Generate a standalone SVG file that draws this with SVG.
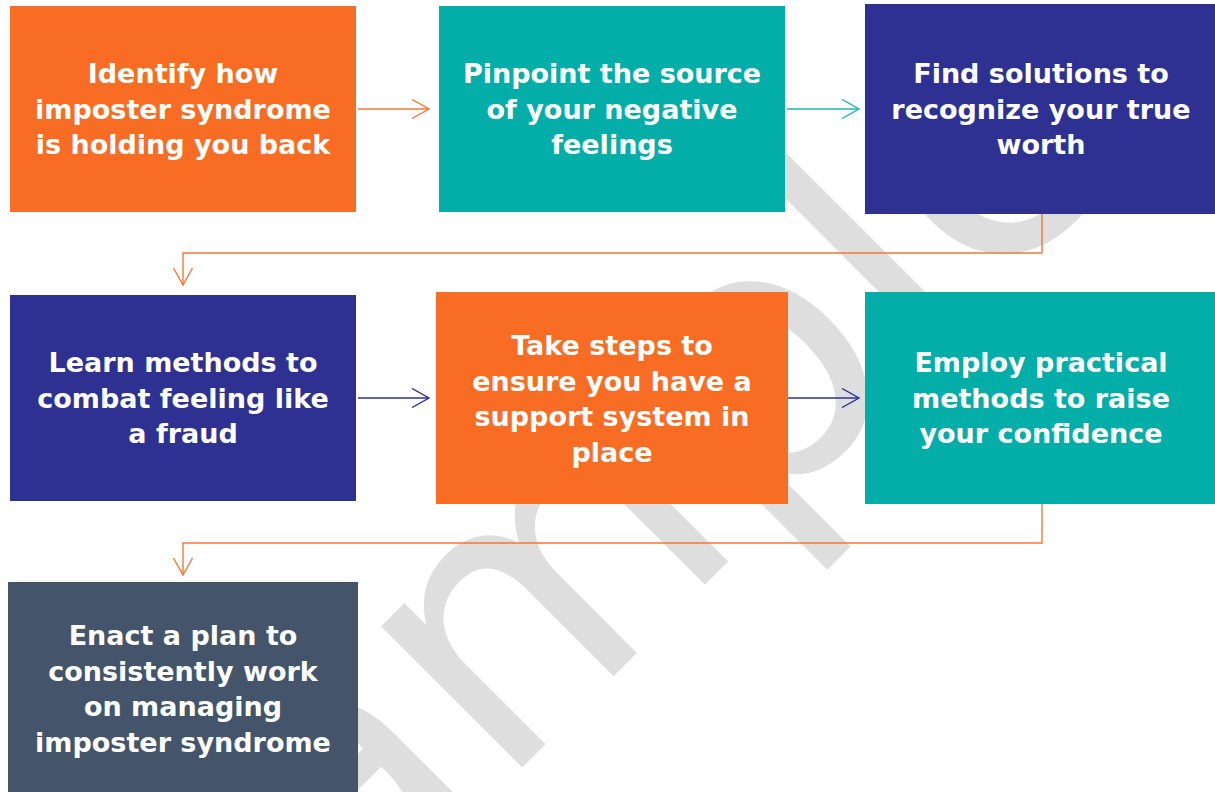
<svg xmlns="http://www.w3.org/2000/svg" width="1215" height="792" viewBox="0 0 1215 792">
<style>
.lbl{font-family:"DejaVu Sans","Liberation Sans",sans-serif;font-weight:bold;font-size:27px;fill:#ffffff;text-anchor:middle}
.wm{font-family:"DejaVu Sans","Liberation Sans",sans-serif;font-size:365px;fill:#dedede}
.ln{fill:none;stroke-width:1.4}
.or{stroke:#F6773A}
.te{stroke:#1DB7B1}
.bl{stroke:#2E3192}
</style>
<defs>
<marker id="mOr" viewBox="0 0 20 20" markerWidth="20" markerHeight="20" markerUnits="userSpaceOnUse" refX="18" refY="10" orient="auto"><path d="M1,0.5 L18,10 L1,19.5" fill="none" stroke="#F6773A" stroke-width="1.4"/></marker>
<marker id="mTe" viewBox="0 0 20 20" markerWidth="20" markerHeight="20" markerUnits="userSpaceOnUse" refX="18" refY="10" orient="auto"><path d="M1,0.5 L18,10 L1,19.5" fill="none" stroke="#1DB7B1" stroke-width="1.4"/></marker>
<marker id="mBl" viewBox="0 0 20 20" markerWidth="20" markerHeight="20" markerUnits="userSpaceOnUse" refX="18" refY="10" orient="auto"><path d="M1,0.5 L18,10 L1,19.5" fill="none" stroke="#2E3192" stroke-width="1.4"/></marker>
</defs>
<rect width="1215" height="792" fill="#ffffff"/>
<text class="wm" transform="rotate(-45)" x="-662" y="912">Sample</text>
<g id="connectors">
<path class="ln or" d="M358,109 H429" marker-end="url(#mOr)"/>
<path class="ln te" d="M787,109 H859" marker-end="url(#mTe)"/>
<path class="ln or" d="M1042,214 V253 H183 V285" marker-end="url(#mOr)"/>
<path class="ln bl" d="M358,398 H429" marker-end="url(#mBl)"/>
<path class="ln bl" d="M788,398 H859" marker-end="url(#mBl)"/>
<path class="ln or" d="M1042,504 V543 H183 V575" marker-end="url(#mOr)"/>
</g>
<g id="n1"><rect x="10" y="6" width="346" height="206" fill="#F96C23"/>
<text class="lbl" x="183" y="83">Identify how</text><text class="lbl" x="183" y="118.5">imposter syndrome</text><text class="lbl" x="183" y="154">is holding you back</text></g>
<g id="n2"><rect x="439" y="6" width="346" height="206" fill="#04AEA8"/>
<text class="lbl" x="612" y="83">Pinpoint the source</text><text class="lbl" x="612" y="118.5">of your negative</text><text class="lbl" x="612" y="154">feelings</text></g>
<g id="n3"><rect x="865" y="4" width="350" height="210" fill="#2E3192"/>
<text class="lbl" x="1041" y="83">Find solutions to</text><text class="lbl" x="1041" y="118.5">recognize your true</text><text class="lbl" x="1041" y="154">worth</text></g>
<g id="n4"><rect x="10" y="295" width="346" height="206" fill="#2E3192"/>
<text class="lbl" x="183" y="372">Learn methods to</text><text class="lbl" x="183" y="407.5">combat feeling like</text><text class="lbl" x="183" y="443">a fraud</text></g>
<g id="n5"><rect x="436" y="292" width="352" height="212" fill="#F96C23"/>
<text class="lbl" x="612" y="355">Take steps to</text><text class="lbl" x="612" y="390.5">ensure you have a</text><text class="lbl" x="612" y="426">support system in</text><text class="lbl" x="612" y="461.5">place</text></g>
<g id="n6"><rect x="865" y="292" width="350" height="212" fill="#04AEA8"/>
<text class="lbl" x="1041" y="372">Employ practical</text><text class="lbl" x="1041" y="407.5">methods to raise</text><text class="lbl" x="1041" y="443">your confidence</text></g>
<g id="n7"><rect x="8" y="582" width="350" height="210" fill="#44546A"/>
<text class="lbl" x="183" y="645">Enact a plan to</text><text class="lbl" x="183" y="680.5">consistently work</text><text class="lbl" x="183" y="716">on managing</text><text class="lbl" x="183" y="751.5">imposter syndrome</text></g>
</svg>
